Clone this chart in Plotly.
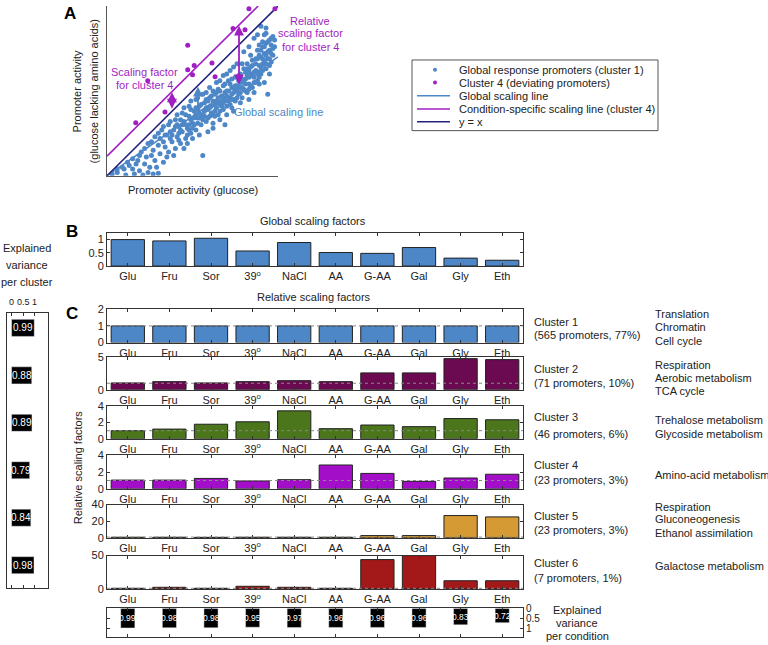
import plotly.graph_objects as go

W, H = 768, 645
FONT = "Liberation Sans, Arial, sans-serif"

# ---------------- data ----------------
conditions = ["Glu", "Fru", "Sor", "39<sup>o</sup>", "NaCl", "AA", "G-AA", "Gal", "Gly", "Eth"]
global_sf = [1.0, 0.95, 1.05, 0.57, 0.89, 0.51, 0.48, 0.70, 0.30, 0.22]
c1_sf = [1.0, 1.0, 1.0, 1.0, 1.0, 1.0, 1.0, 1.0, 1.0, 1.0]
c2_sf = [1.05, 1.25, 1.05, 1.25, 1.4, 1.25, 2.6, 2.6, 4.8, 4.65]
c3_sf = [1.0, 1.2, 1.8, 2.1, 3.45, 1.25, 1.7, 1.5, 2.5, 2.35]
c4_sf = [1.05, 1.05, 1.25, 0.95, 1.1, 2.86, 1.85, 0.9, 1.3, 1.75]
c5_sf = [0.8, 0.8, 0.7, 0.8, 0.8, 0.8, 2.8, 2.8, 26.8, 25.2]
c6_sf = [1.0, 2.5, 1.0, 4.0, 2.5, 1.0, 44.0, 50.0, 12.3, 12.3]
var_condition = [0.99, 0.98, 0.98, 0.95, 0.97, 0.96, 0.96, 0.96, 0.83, 0.72]
var_cluster = [0.99, 0.88, 0.89, 0.79, 0.84, 0.98]
var_ticks = [0, 0.5, 1]
var_tick_labels = ["0", "0.5", "1"]

cluster_names = ["Cluster 1", "Cluster 2", "Cluster 3", "Cluster 4", "Cluster 5", "Cluster 6"]
cluster_counts = ["(565 promoters, 77%)", "(71 promoters, 10%)", "(46 promoters, 6%)",
                  "(23 promoters, 3%)", "(23 promoters, 3%)", "(7 promoters, 1%)"]
cluster_functions = [
    ["Translation", "Chromatin", "Cell cycle"],
    ["Respiration", "Aerobic metabolism", "TCA cycle"],
    ["Trehalose metabolism", "Glycoside metabolism"],
    ["Amino-acid metabolism"],
    ["Respiration", "Gluconeogenesis", "Ethanol assimilation"],
    ["Galactose metabolism"],
]
cluster_ranges = [[0, 2], [0, 5], [0, 4], [0, 4], [0, 40], [0, 50]]
cluster_ticks = [[0, 1, 2], [0, 5], [0, 2, 4], [0, 2, 4], [0, 20, 40], [0, 50]]

# panel A schematic scatter (arbitrary activity units)
blue_x = [0.3, 0.6, 1.1, 1.6, 1.9, 2.1, 2.4, 2.7, 3.0, 1.3, 1.8, 2.2, 2.5, 2.8, 3.1, 3.3, 2.0, 2.6, 3.5, 3.1,
          3.4, 3.6, 3.8, 3.7, 4.0, 4.1, 4.2, 4.3, 4.4, 4.5, 4.6, 4.7, 4.8, 4.9, 5.0, 5.1, 5.2, 5.3, 5.4, 5.5,
          5.6, 5.6, 5.7, 5.8, 5.9, 6.0, 6.0, 6.1, 6.2, 6.3, 6.3, 6.4, 6.5, 6.5, 6.6, 6.7, 6.8, 6.8, 6.9, 7.0,
          7.0, 7.1, 7.2, 7.3, 7.3, 7.4, 7.5, 7.5, 7.6, 7.7, 7.8, 7.8, 7.9, 8.0, 8.0, 8.1, 8.2, 8.2, 8.3, 8.4,
          8.4, 8.5, 8.5, 8.6, 8.7, 8.7, 8.8, 8.8, 8.9, 9.0, 9.0, 9.0, 9.1, 9.1, 9.2, 9.2, 9.3, 9.3, 9.4, 9.4,
          9.5, 9.5, 9.6, 9.6, 9.7, 9.8, 8.6, 8.0, 7.6, 7.2, 6.8, 6.4, 6.0, 5.6, 5.2, 4.8, 4.4, 4.0, 3.6, 3.2,
          2.8, 2.4, 5.0, 4.5, 6.2, 7.0, 7.8, 8.6, 3.9, 2.9, 1.5, 5.9, 6.6, 7.4, 8.3, 9.2, 4.7, 5.4, 6.9, 3.3,
          3.5, 3.9, 4.1, 4.3, 4.6, 4.9, 5.1, 5.3, 5.5, 5.8, 6.1, 6.2, 6.4, 6.7, 6.9, 7.1, 7.3, 7.5, 7.7, 7.9,
          8.1, 8.3, 8.5, 8.7, 8.9, 9.1, 9.3, 9.5, 9.7, 8.9, 8.2, 7.6, 7.0, 6.5, 5.9, 5.4, 4.8, 4.2, 3.7, 2.3,
          1.7, 1.0,
          4.0, 4.2, 4.4, 4.6, 4.7, 4.9, 5.0, 5.1, 5.2, 5.3, 5.4, 5.5, 5.6, 5.7, 5.8, 5.9, 6.0, 6.1, 6.2, 6.3,
          6.4, 6.5, 6.6, 6.6, 6.7, 6.8, 6.9, 7.0, 7.1, 7.2, 7.2, 7.3, 7.4, 7.5, 7.6, 7.7, 7.7, 7.8, 7.9, 8.0,
          8.1, 8.1, 8.2, 8.3, 8.4, 8.4, 8.5, 8.6, 8.6, 8.7, 8.8, 8.8, 8.9, 8.9, 9.0, 9.0, 9.1, 9.1, 9.2, 9.2,
          9.3, 9.3, 9.4, 9.4, 9.5, 9.6, 9.6, 9.7, 9.8, 9.3, 8.8, 8.3, 7.9, 7.4, 7.0, 6.6, 6.2, 5.8, 5.3, 4.9,
          4.5, 4.1, 3.7, 3.3, 3.0, 2.6, 2.2, 1.9, 1.5, 1.2, 0.9, 0.6, 3.0, 2.7, 3.4, 3.8, 4.3, 4.8, 5.2, 5.7,
          6.3, 6.8, 7.3, 7.8, 8.3, 8.9, 9.5]
blue_y = [0.1, 0.2, 0.05, 0.1, 0.3, 0.05, 0.2, 0.1, 0.15, 0.6, 0.9, 0.7, 0.5, 0.9, 1.3, 0.8, 1.4, 1.2, 1.1, 2.2,
          1.7, 1.4, 2.0, 2.6, 1.6, 2.3, 2.9, 1.9, 2.6, 3.2, 2.2, 2.8, 3.5, 2.5, 3.1, 3.8, 2.7, 3.4, 4.1, 3.0,
          1.2, 3.6, 4.3, 3.2, 3.9, 4.6, 3.5, 4.1, 3.1, 4.8, 3.8, 4.4, 5.1, 3.6, 4.2, 4.7, 3.9, 5.3, 4.5, 5.0,
          4.1, 5.6, 4.6, 5.2, 4.0, 4.9, 5.8, 4.4, 5.3, 4.8, 6.0, 5.5, 4.6, 5.1, 6.3, 5.7, 4.9, 6.6, 5.4, 6.0,
          7.1, 5.2, 6.5, 5.8, 6.9, 6.2, 5.6, 7.4, 6.5, 7.0, 6.0, 8.8, 7.6, 6.6, 7.2, 8.3, 6.3, 7.8, 6.9, 4.8,
          7.4, 8.0, 6.7, 7.7, 7.1, 7.6, 8.1, 7.3, 6.6, 6.2, 5.9, 5.5, 5.2, 4.8, 4.5, 4.1, 3.7, 3.3, 3.0, 2.7,
          2.3, 1.9, 2.2, 1.6, 2.8, 3.6, 4.3, 4.9, 1.2, 0.5, 0.4, 2.6, 3.3, 3.8, 4.5, 5.5, 1.9, 2.4, 3.0, 2.0,
          2.4, 2.7, 3.0, 3.3, 3.0, 3.3, 3.0, 3.9, 3.5, 4.0, 3.7, 4.4, 4.0, 4.4, 4.9, 4.4, 4.8, 5.1, 5.6, 5.2,
          5.4, 6.2, 5.9, 5.5, 6.1, 6.9, 7.1, 6.5, 8.2, 7.7, 5.9, 5.0, 4.7, 4.6, 4.4, 3.7, 3.0, 2.5, 2.2, 1.1,
          0.7, 0.4,
          2.9, 2.1, 3.0, 3.6, 2.4, 3.9, 2.8, 3.4, 4.0, 3.1, 3.4, 4.2, 3.3, 3.8, 4.5, 3.4, 4.0, 4.7, 3.6, 4.2,
          4.9, 4.3, 3.8, 5.0, 4.1, 4.6, 5.4, 4.4, 5.0, 5.4, 4.2, 5.7, 4.5, 5.3, 4.6, 5.9, 5.2, 4.9, 5.7, 5.5,
          6.1, 5.0, 6.3, 5.8, 5.3, 6.4, 6.8, 6.1, 5.5, 6.6, 6.0, 6.9, 7.1, 5.8, 6.4, 7.4, 6.2, 7.9, 6.8, 7.6,
          6.6, 8.4, 7.3, 7.9, 6.9, 7.2, 8.1, 7.5, 8.0, 8.7, 8.3, 7.6, 6.6, 6.4, 6.0, 5.6, 5.0, 4.9, 4.6, 4.4,
          4.0, 3.6, 3.2, 2.9, 2.5, 2.0, 1.6, 1.2, 1.0, 0.8, 0.5, 0.4, 1.8, 1.5, 2.4, 2.4, 2.7, 2.7, 3.6, 3.5,
          3.5, 4.3, 4.5, 5.2, 5.1, 5.4, 6.0]
purple_x = [8.3, 9.82, 7.37, 8.07, 4.72, 5.1, 4.72, 6.14, 6.32, 2.38, 3.39, 1.68, 5.0]
purple_y = [9.84, 9.84, 8.67, 8.6, 7.69, 6.5, 6.24, 6.65, 5.84, 5.6, 3.76, 3.12, 5.95]
line_x = [0, 10]
identity_y = [0, 10]
global_line_y = [0, 7.0]
cluster4_line_x = [0, 8.84]
cluster4_line_y = [1.16, 10]
# arrows: (x, tail y, head y)
blue_arrow = (5.32, 3.64, 5.25)
purple_arrow_left = (3.80, 3.86, 4.92)
purple_arrow_right = (7.72, 5.30, 8.84)

# ---------------- colours ----------------
BLUE = "#4d87c7"
PURPLE = "#a01fc2"
NAVY = "#23237f"
cluster_colors = [BLUE, "#6b0a50", "#4b761c", "#a30fc9", "#d69a35", "#a31818"]
AX = "#333333"


def dxp(a, b):
    return [a / W, b / W]


def dyp(top, bottom):
    return [1 - bottom / H, 1 - top / H]


def px(x):
    return x / W


def py(y):
    return 1 - y / H


fig = go.Figure()
layout = dict(
    width=W, height=H, margin=dict(l=0, r=0, t=0, b=0), autosize=False,
    paper_bgcolor="white", plot_bgcolor="white", showlegend=False,
    font=dict(family=FONT, size=11, color="#222"),
    bargap=0.2,
)

# ---- Panel A ----
fig.add_trace(go.Scatter(x=line_x, y=global_line_y, mode="lines", line=dict(color=BLUE, width=1.5),
                         xaxis="x", yaxis="y", hoverinfo="skip"))
fig.add_trace(go.Scatter(x=blue_x, y=blue_y, mode="markers", marker=dict(color=BLUE, size=5),
                         xaxis="x", yaxis="y"))
fig.add_trace(go.Scatter(x=line_x, y=identity_y, mode="lines", line=dict(color=NAVY, width=1.6),
                         xaxis="x", yaxis="y"))
fig.add_trace(go.Scatter(x=cluster4_line_x, y=cluster4_line_y, mode="lines", line=dict(color=PURPLE, width=1.6),
                         xaxis="x", yaxis="y"))
fig.add_trace(go.Scatter(x=purple_x, y=purple_y, mode="markers", marker=dict(color=PURPLE, size=5),
                         xaxis="x", yaxis="y"))
layout["xaxis"] = dict(domain=dxp(107, 278), range=[0, 10], showline=True, linecolor="#555", linewidth=1.2,
                       showticklabels=False, ticks="", showgrid=False, zeroline=False, anchor="y")
layout["yaxis"] = dict(domain=dyp(0, 173), range=[0, 10], showline=True, linecolor="#555", linewidth=1.2,
                       showticklabels=False, ticks="", showgrid=False, zeroline=False, anchor="x")


def xstyle(domain, anchor, labels=True):
    return dict(domain=domain, range=[-0.5, 9.5], tickvals=list(range(10)), ticktext=conditions,
                showticklabels=labels, ticks="inside", ticklen=3, tickcolor=AX, showline=True,
                linecolor=AX, linewidth=1, mirror="ticks", showgrid=False, zeroline=False,
                anchor=anchor, tickangle=0, tickfont=dict(size=11, color="#222"))


def ystyle(domain, anchor, rng, tv, side="left", size=11):
    return dict(domain=domain, range=rng, tickvals=tv, ticktext=[str(t) for t in tv],
                ticks="inside", ticklen=3, tickcolor=AX, showline=True, linecolor=AX, linewidth=1,
                mirror="ticks", showgrid=False, zeroline=False, anchor=anchor, side=side,
                tickfont=dict(size=size, color="#222"))


idx = list(range(10))

# ---- Panel B ----
fig.add_trace(go.Bar(x=idx, y=global_sf, marker=dict(color=BLUE, line=dict(color="#222", width=1)),
                     width=0.8, xaxis="x2", yaxis="y2"))
layout["xaxis2"] = xstyle(dxp(107, 523), "y2")
layout["yaxis2"] = ystyle(dyp(231, 265), "x2", [0, 1.26], [0, 0.5, 1])

# ---- Panel C ----
cluster_values = [c1_sf, c2_sf, c3_sf, c4_sf, c5_sf, c6_sf]
cluster_px = [(309, 343), (358, 391), (408, 441), (458, 492), (508, 542), (560, 594)]
shapes = []
for i, vals in enumerate(cluster_values):
    n = i + 3
    fig.add_trace(go.Bar(x=idx, y=vals, width=0.8,
                         marker=dict(color=cluster_colors[i], line=dict(color="#222", width=1)),
                         xaxis=f"x{n}", yaxis=f"y{n}"))
    top, bot = cluster_px[i]
    layout[f"xaxis{n}"] = xstyle(dxp(107, 523), f"y{n}")
    layout[f"yaxis{n}"] = ystyle(dyp(top, bot), f"x{n}", cluster_ranges[i], cluster_ticks[i])
    shapes.append(dict(type="line", xref=f"x{n} domain", yref=f"y{n}", x0=0, x1=1, y0=1, y1=1,
                       line=dict(color="#888", width=1, dash="dot"), layer="above"))

ann = []

# ---- explained variance per condition ----
fig.add_trace(go.Bar(x=idx, y=var_condition, width=0.34, marker=dict(color="black"),
                     xaxis="x9", yaxis="y9"))
for i, v in enumerate(var_condition):
    ann.append(dict(x=i, y=v / 2, xref="x9", yref="y9", text=f"{v:.2f}", showarrow=False,
                    xanchor="center", yanchor="middle",
                    font=dict(color="white", size=8.5, family=FONT)))
layout["xaxis9"] = xstyle(dxp(107, 523), "y9", labels=False)
layout["yaxis9"] = ystyle(dyp(613, 643), "x9", [1.45, -0.05], var_ticks, side="right", size=10)
layout["yaxis9"]["ticktext"] = var_tick_labels

# ---- explained variance per cluster ----
cl_idx = [1, 2, 3, 4, 5, 6]
fig.add_trace(go.Bar(y=cl_idx, x=var_cluster, orientation="h", width=0.36,
                     marker=dict(color="black"), xaxis="x10", yaxis="y10"))
for k, v in zip(cl_idx, var_cluster):
    ann.append(dict(x=v / 2, y=k, xref="x10", yref="y10", text=f"{v:.2f}", showarrow=False,
                    xanchor="center", yanchor="middle",
                    font=dict(color="white", size=10, family=FONT)))
layout["xaxis10"] = dict(domain=dxp(7, 48), range=[-0.2, 1.59], tickvals=var_ticks,
                         showticklabels=False,
                         ticks="inside", ticklen=3, tickcolor=AX, showline=True, linecolor=AX,
                         linewidth=1, mirror="ticks", showgrid=False, zeroline=False, anchor="y10")
layout["yaxis10"] = dict(domain=dyp(313, 593), range=[6.48, 0.69], showticklabels=False, ticks="",
                         showline=True, linecolor=AX, linewidth=1, mirror=True, showgrid=False,
                         zeroline=False, anchor="x10")
for t, lab in zip(var_ticks, var_tick_labels):
    ann.append(dict(x=t, y=py(302), xref="x10", yref="paper", text=lab, showarrow=False,
                    xanchor="center", yanchor="middle", font=dict(size=9, color="#222", family=FONT)))

# ---------------- annotations ----------------


def text(x, y, s, size=11, color="#222", xanchor="center", bold=False, angle=0):
    if bold:
        s = f"<b>{s}</b>"
    ann.append(dict(x=px(x), y=py(y), xref="paper", yref="paper", text=s, showarrow=False,
                    xanchor=xanchor, yanchor="middle", textangle=angle,
                    font=dict(size=size, color=color, family=FONT)))


# panel letters
text(70, 8, "A", size=17, color="black", bold=True)
text(72, 230, "B", size=17, color="black", bold=True)
text(72, 313, "C", size=17, color="black", bold=True)

# panel A labels
text(193, 187, "Promoter activity (glucose)")
text(77, 87, "Promoter activity", angle=-90)
text(94, 87, "(glucose lacking amino acids)", angle=-90)
for t, yy in zip(["Relative", "scaling factor", "for cluster 4"], [15, 28, 42]):
    text(310, yy, t, color=PURPLE)
for t, yy in zip(["Scaling factor", "for cluster 4"], [67, 81]):
    text(144, yy, t, color=PURPLE)
text(278, 108, "Global scaling line", color=BLUE)

# arrows
for (xa, y0, y1), col, double in [(blue_arrow, BLUE, False), (purple_arrow_left, PURPLE, True),
                                  (purple_arrow_right, PURPLE, True)]:
    ann.append(dict(x=xa, y=y1, ax=xa, ay=y0, xref="x", yref="y", axref="x", ayref="y", text="",
                    showarrow=True, arrowhead=2, arrowsize=1.1, arrowwidth=1.8, arrowcolor=col,
                    arrowside="end+start" if double else "end", startarrowhead=2, startarrowsize=1.1))

# legend (manual)
lg_left, lg_top, lg_right, lg_bot = 412, 55, 658, 127
shapes.append(dict(type="rect", xref="paper", yref="paper", x0=px(lg_left), x1=px(lg_right),
                   y0=py(lg_bot), y1=py(lg_top), line=dict(color="#555", width=1), fillcolor="white",
                   layer="below"))
legend_items = [("marker", BLUE, "Global response promoters (cluster 1)"),
                ("marker", PURPLE, "Cluster 4 (deviating promoters)"),
                ("line", BLUE, "Global scaling line"),
                ("line", PURPLE, "Condition-specific scaling line (cluster 4)"),
                ("line", NAVY, "y = x")]
legend_y = [65, 78, 91.5, 105, 118]
for (kind, col, lab), yy in zip(legend_items, legend_y):
    if kind == "marker":
        shapes.append(dict(type="circle", xref="paper", yref="paper", x0=px(433), x1=px(437),
                           y0=py(yy + 2), y1=py(yy - 2), fillcolor=col, line=dict(width=0)))
    else:
        shapes.append(dict(type="line", xref="paper", yref="paper", x0=px(417), x1=px(450),
                           y0=py(yy), y1=py(yy), line=dict(color=col, width=1.6)))
    text(457, yy, lab, xanchor="left")

# titles of B and C
text(313, 219, "Global scaling factors")
text(314, 297, "Relative scaling factors")
text(78, 470, "Relative scaling factors", angle=-90)

# explained variance labels
for t, yy in zip(["Explained", "variance", "per cluster"], [247, 264, 281]):
    text(27, yy, t)
for t, yy in zip(["Explained", "variance", "per condition"], [615, 629, 642]):
    text(577, yy, t)

# cluster descriptions
name_y = [(322, 335), (370, 384), (419, 436), (468, 483), (520, 534), (568, 583)]
func_y = [[314, 327, 341], [366, 379, 392], [422, 436], [478], [510, 523, 537], [571]]
for i in range(6):
    text(532, name_y[i][0], cluster_names[i], xanchor="left")
    text(532, name_y[i][1], cluster_counts[i], xanchor="left")
    for t, yy in zip(cluster_functions[i], func_y[i]):
        text(653, yy, t, xanchor="left")

layout["annotations"] = ann
layout["shapes"] = shapes
fig.update_layout(**layout)
fig.write_html("out.html", config={"displayModeBar": False},
               post_script="document.body.style.margin='0px';document.body.style.padding='0px';"
                           "document.documentElement.style.overflow='hidden';")
